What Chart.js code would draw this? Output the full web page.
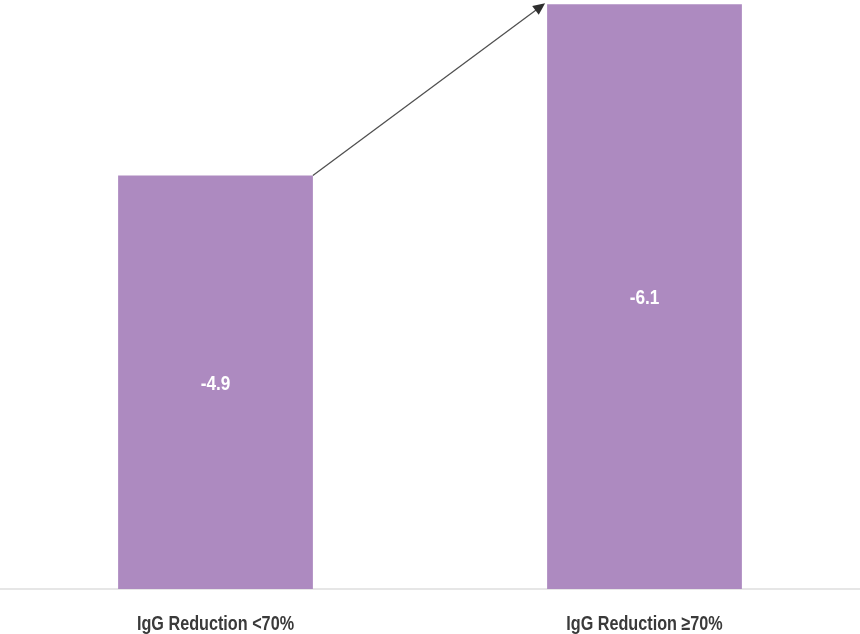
<!DOCTYPE html>
<html>
<head>
<meta charset="utf-8">
<script src="https://cdn.jsdelivr.net/npm/chart.js@4.4.0/dist/chart.umd.min.js"></script>
<style>
html,body{margin:0;padding:0;background:#fff;}
#wrap{width:860px;height:634px;position:relative;}
</style>
</head>
<body>
<div id="wrap"><canvas id="c" width="860" height="634"></canvas></div>
<script>
const categories = ["IgG Reduction <70%", "IgG Reduction \u226570%"];
const changeValues = [-4.9, -6.1];
const valueLabels = ["-4.9", "-6.1"];

const FONT = '"Liberation Sans", Arial, sans-serif';

function drawCondensed(ctx, text, x, y, sx) {
  ctx.save();
  ctx.translate(x, y);
  ctx.scale(sx, 1);
  ctx.fillText(text, 0, 0);
  ctx.restore();
}

const labelPlugin = {
  id: 'barLabels',
  afterDatasetsDraw(chart) {
    const ctx = chart.ctx;
    const meta = chart.getDatasetMeta(0);
    const bottom = chart.chartArea.bottom;
    ctx.save();
    ctx.fillStyle = '#ffffff';
    ctx.font = 'bold 21px ' + FONT;
    ctx.textAlign = 'center';
    ctx.textBaseline = 'middle';
    meta.data.forEach((bar, i) => {
      const p = bar.getProps(['x','y','base'], true);
      const b = Math.min(p.base, bottom);
      drawCondensed(ctx, valueLabels[i], p.x, (p.y + b) / 2 + 2, 0.82);
    });
    const xs = chart.scales.x;
    ctx.fillStyle = '#3a3a3a';
    ctx.font = 'bold 20px ' + FONT;
    categories.forEach((c, i) => {
      drawCondensed(ctx, c, xs.getPixelForTick(i), 624, 0.81);
    });
    ctx.restore();
  }
};

const arrowPlugin = {
  id: 'arrow',
  afterDatasetsDraw(chart) {
    const ctx = chart.ctx;
    const meta = chart.getDatasetMeta(0);
    const b0 = meta.data[0].getProps(['x','y','width'], true);
    const b1 = meta.data[1].getProps(['x','y','width'], true);
    const x0 = b0.x + b0.width / 2, y0 = b0.y;
    const x1 = b1.x - b1.width / 2 - 2, y1 = b1.y - 1;
    const ang = Math.atan2(y1 - y0, x1 - x0);
    const head = 12, hw = 5.5;
    ctx.save();
    ctx.strokeStyle = '#505050';
    ctx.fillStyle = '#2e2e2e';
    ctx.lineWidth = 1.3;
    ctx.beginPath();
    ctx.moveTo(x0, y0);
    ctx.lineTo(x1 - Math.cos(ang) * head * 0.8, y1 - Math.sin(ang) * head * 0.8);
    ctx.stroke();
    ctx.beginPath();
    ctx.moveTo(x1, y1);
    ctx.lineTo(x1 - Math.cos(ang) * head - Math.sin(ang) * hw, y1 - Math.sin(ang) * head + Math.cos(ang) * hw);
    ctx.lineTo(x1 - Math.cos(ang) * head + Math.sin(ang) * hw, y1 - Math.sin(ang) * head - Math.cos(ang) * hw);
    ctx.closePath();
    ctx.fill();
    ctx.restore();
  }
};

new Chart(document.getElementById('c'), {
  type: 'bar',
  data: {
    labels: categories,
    datasets: [{
      data: changeValues,
      backgroundColor: '#ad8ac0',
      borderWidth: 0,
      barPercentage: 0.454,
      categoryPercentage: 1.0
    }]
  },
  options: {
    responsive: false,
    animation: false,
    devicePixelRatio: 1,
    layout: { padding: { left: 1, right: 1, top: 0, bottom: 0 } },
    plugins: { legend: { display: false }, tooltip: { enabled: false } },
    scales: {
      x: {
        grid: { display: false },
        border: { display: true, color: '#e6e6e6', width: 2 },
        ticks: { display: false },
        afterFit(scale) { scale.height = 45; }
      },
      y: {
        display: false,
        reverse: true,
        min: -6.13,
        max: -2.0
      }
    }
  },
  plugins: [labelPlugin, arrowPlugin]
});
</script>
</body>
</html>
